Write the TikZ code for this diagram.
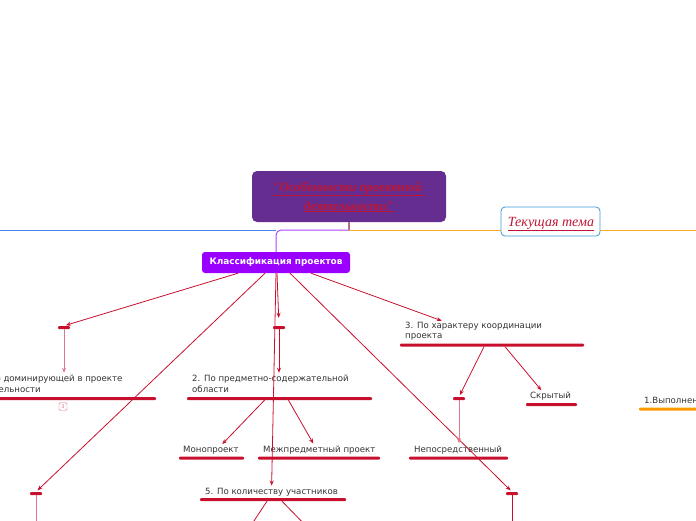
\documentclass[tikz,border=0pt]{standalone}
\usepackage{fontspec}
\newfontfamily\mapfont{DejaVu Sans}
\newfontfamily\titlefont{Liberation Serif}
\usetikzlibrary{arrows.meta, positioning, calc}

\definecolor{crim}{RGB}{200,16,46}
\definecolor{palecrim}{RGB}{226,118,140}
\definecolor{txtgray}{RGB}{51,51,51}
\definecolor{titlepurple}{RGB}{102,45,145}
\definecolor{titlered}{RGB}{190,22,52}
\definecolor{clsviolet}{RGB}{153,0,255}
\definecolor{linkviolet}{RGB}{170,70,255}
\definecolor{lineblue}{RGB}{74,134,232}
\definecolor{lineorange}{RGB}{250,170,40}
\definecolor{barorange}{RGB}{255,153,0}
\definecolor{stubmauve}{RGB}{176,112,140}
\definecolor{boxblue}{RGB}{61,154,214}

\begin{document}
\begin{tikzpicture}[
    x=1pt, y=-1pt,
    >=Stealth,
    arr/.style={-{Stealth[length=5pt,width=4pt]}, crim, line width=0.8pt, shorten >=2pt},
    pale/.style={arr, palecrim},
    lbl/.style={font=\mapfont\fontsize{8.6}{10.5}\selectfont, text=txtgray, align=left, inner sep=0pt, anchor=base west},
    bar/.style={fill=crim, minimum height=3pt, inner sep=0pt, rounded corners=1pt},
    stub/.style={bar, minimum width=12pt},
    ttl/.style={font=\titlefont\itshape\fontsize{14}{18}\selectfont, text=titlered},
]
\clip (0,0) rectangle (696,520);
\fill[white] (0,0) rectangle (696,520);
% === Main branch lines ===
\coordinate (hub) at (349,230);
\coordinate (westend) at (0,230);
\coordinate (eastend) at (696,230);
\draw[lineorange, line width=1pt] (hub) -- (eastend);
%
\node[fill=titlepurple, rounded corners=5pt, minimum width=194, minimum height=51] (title) at (349,196.5) {};
\node[ttl, font=\titlefont\bfseries\itshape\fontsize{12.8}{19}\selectfont, align=center, anchor=base] (titletext) at (349,210)
    {\underline{"Особенности проектной }\\\underline{деятельности"}};
\node[draw=boxblue, fill=white, line width=0.8pt, rounded corners=4pt, minimum width=99, minimum height=29] (cur) at (550.5,221.5) {};
\node[ttl, anchor=base] (curtext) at (551,226) {\underline{Текущая тема}};
\node[fill=clsviolet, rounded corners=3pt, minimum width=148, minimum height=21, text=white, font=\mapfont\bfseries\fontsize{8.9}{10}\selectfont] (cls) at (276,262.5)
    {Классификация проектов};
\draw[stubmauve, line width=1.2pt] (title.south) -- (hub);
\draw[lineblue, line width=1pt] (westend) -- (westend -| cls.north);
\draw[linkviolet, line width=1pt, rounded corners=5pt] (cls.north) |- (hub);
% === Stubs and bars ===
\node[stub] (s1) at (64,327.5) {};
\node[stub] (s2) at (279,327.5) {};
\node[stub] (s3) at (459,398.5) {};
\node[stub] (s4) at (36,493.5) {};
\node[stub] (s5) at (512,493.5) {};
%
\node[bar, minimum width=184] (b1) at (64,398.5) {};
\node[bar, minimum width=185] (b2) at (279.5,398.5) {};
\node[bar, minimum width=184] (b3) at (492,345) {};
\node[bar, minimum width=146] (b5) at (273,499.5) {};
\node[bar, minimum width=65] (bmono) at (211.5,458) {};
\node[bar, minimum width=122] (bmezh) at (319,458) {};
\node[bar, minimum width=99] (bnep) at (458.5,458) {};
\node[bar, minimum width=51] (bskr) at (551.5,404.5) {};
\node[bar, fill=barorange, minimum width=82] (bvyp) at (680,409) {};
% === Labels ===
\node[lbl] (t1) at (-23,392) {1. По доминирующей в проекте\\деятельности};
\node[lbl] (t2) at (192,392) {2. По предметно-содержательной\\области};
\node[lbl] (t3) at (405,338.5) {3. По характеру координации\\проекта};
\node[lbl] (t5) at (205,494) {5. По количеству участников};
\node[lbl] (tmono) at (183,452) {Монопроект};
\node[lbl] (tmezh) at (263,452) {Межпредметный проект};
\node[lbl] (tnep) at (414,452) {Непосредственный};
\node[lbl] (tskr) at (530,398.5) {Скрытый};
\node[lbl] (tvyp) at (644,403) {1.Выполнение};
\node[draw=palecrim, rounded corners=1.5pt, minimum size=8pt, inner sep=0pt, text=palecrim, font=\mapfont\fontsize{5}{5}\selectfont] (badge1) at (63,406.5) {3};
% === Connectors ===
\draw[arr] ([xshift=-38pt]cls.south) -- (s1.north);
\draw[arr] ([xshift=-11pt]cls.south) -- (s4.north);
\draw[arr, shorten >=8pt] ([xshift=1pt]cls.south) -- (s2.north);
\draw[arr] (cls.south) -- (t5.north);
\draw[arr] ([xshift=14pt]cls.south) -- (s5.north);
\draw[arr] ([xshift=35pt]cls.south) -- ([xshift=-30pt]t3.north);
%
\draw[pale] (s1.south) -- (s1 |- t1.north);
\draw[arr] (s2.south) -- (s2 |- t2.north);
\draw[pale] (s3.south) -- (s3 |- tnep.north);
%
\draw[arr] ([xshift=-15pt]b2.south) -- ([xshift=10pt]tmono.north);
\draw[arr] ([xshift=9pt]b2.south) -- ([xshift=-5pt]tmezh.north);
\draw[arr] ([xshift=-8pt]b3.south) -- (s3.north);
\draw[arr] ([xshift=13pt]b3.south) -- ([xshift=-8pt]tskr.north);
% free ends below the frame
\coordinate (d4) at (36,530);
\coordinate (d5) at (512,530);
\coordinate (d5a) at (248,530);
\coordinate (d5b) at (310,530);
\draw[palecrim, line width=0.8pt] (s4.south) -- (d4);
\draw[crim, line width=0.8pt] (s5.south) -- (d5);
\draw[crim, line width=0.8pt] ([xshift=-6pt]b5.south) -- (d5a);
\draw[crim, line width=0.8pt] ([xshift=9pt]b5.south) -- (d5b);
\end{tikzpicture}
\end{document}
